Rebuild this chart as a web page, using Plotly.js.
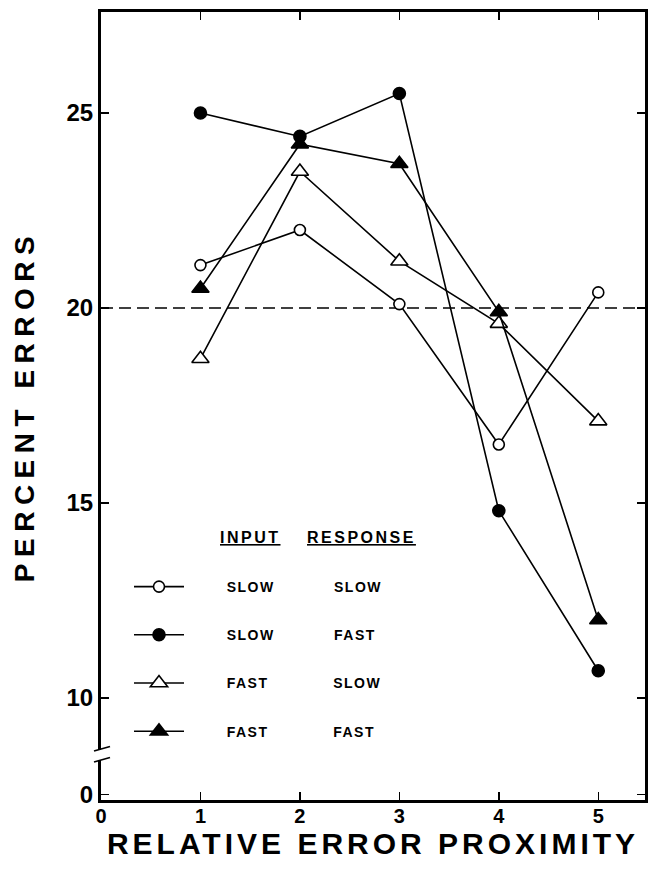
<!DOCTYPE html>
<html><head><meta charset="utf-8">
<script src="https://cdn.plot.ly/plotly-3.0.1.min.js"></script>
<style>
html,body{margin:0;padding:0;background:#fff}
#chart{width:648px;height:871px}
.xtitle{letter-spacing:4px}
.ytitle{letter-spacing:6.5px}
.legendtext{letter-spacing:1.5px}
.annotation-text{letter-spacing:2.5px}
</style></head><body><div id="chart"></div><script>
// ---- data ----
const proximity = [1, 2, 3, 4, 5];
const slowSlow  = [21.1, 22.0, 20.1, 16.5, 20.4];
const slowFast  = [25.0, 24.4, 25.5, 14.8, 10.7];
const fastSlow  = [18.7, 23.5, 21.2, 19.6, 17.1];
const fastFast  = [20.5, 24.2, 23.7, 19.9, 12.0];
const inputLabels    = ['SLOW', 'SLOW', 'FAST', 'FAST'];
const responseLabels = ['SLOW', 'FAST', 'SLOW', 'FAST'];
const xTickVals = [0, 1, 2, 3, 4, 5];
const xTickText = ['0', '1', '2', '3', '4', '5'];
const yTickText = ['0', '10', '15', '20', '25'];
const chanceLevel = 20;

// ---- layout helpers ----
const FONT = 'Liberation Sans, Arial, sans-serif';
const yBreakZero = 7.52;               // where "0" sits below the axis break
const yTickVals = [yBreakZero, 10, 15, 20, 25];

// two-column legend names padded with non-breaking spaces
const cv = document.createElement('canvas').getContext('2d');
cv.font = 'bold 14px "Liberation Sans"';
const LS = 1.5;
function w(s){ return cv.measureText(s).width + LS * s.length; }
const NB = '\u00a0';
function twoCol(a, b){
  const lead = Math.max(0, Math.round(37 / w(NB)));
  const n = Math.max(1, Math.round((109 - w(a)) / w(NB)));
  return NB.repeat(lead) + a + NB.repeat(n) + b;
}

const series = [slowSlow, slowFast, fastSlow, fastFast];
const symbols = ['circle', 'circle', 'triangle-up', 'triangle-up'];
const fills = ['white', 'black', 'white', 'black'];
const sizes = [11, 12, 15, 15];

const traces = series.map((ys, i) => ({
  x: proximity, y: ys, type: 'scatter', mode: 'lines+markers',
  name: twoCol(inputLabels[i], responseLabels[i]),
  legendgroup: 'g' + i,
  line: {color: 'black', width: 1.6},
  marker: {symbol: symbols[i], size: sizes[i], color: fills[i], line: {color: 'black', width: 1.6}},
  cliponaxis: false
}));

const px = v => (v - 101) / 544;
const py = v => (800 - v) / 788;

const layout = {
  width: 648, height: 871,
  margin: {l: 101, r: 3, t: 12, b: 71},
  paper_bgcolor: 'white', plot_bgcolor: 'white',
  showlegend: true,
  font: {family: FONT, color: 'black'},
  xaxis: {
    range: [0, 5.47], tickvals: xTickVals, ticktext: xTickText,
    ticks: 'inside', ticklen: 8, tickwidth: 1.5, tickcolor: 'black',
    showline: true, linewidth: 3, linecolor: 'black', mirror: 'ticks',
    showgrid: false, zeroline: false,
    tickfont: {family: FONT, size: 20, weight: 'bold'},
    ticklabelstandoff: -4,
    title: {text: 'RELATIVE ERROR PROXIMITY', font: {family: FONT, size: 30, weight: 'bold'}, standoff: 4}
  },
  yaxis: {
    range: [7.385, 27.59], tickvals: yTickVals, ticktext: yTickText,
    ticks: 'inside', ticklen: 8, tickwidth: 1.5, tickcolor: 'black',
    showline: true, linewidth: 3, linecolor: 'black', mirror: 'ticks',
    showgrid: false, zeroline: false,
    tickfont: {family: FONT, size: 24, weight: 'bold'},
    ticklabelstandoff: 0,
    title: {text: 'PERCENT ERRORS', font: {family: FONT, size: 28, weight: 'bold'}, standoff: 24}
  },
  legend: {
    x: px(129), y: py(571), xanchor: 'left', yanchor: 'top',
    bgcolor: 'rgba(0,0,0,0)', borderwidth: 0,
    font: {family: FONT, size: 14, weight: 'bold'},
    tracegroupgap: 27, itemwidth: 50, traceorder: 'grouped'
  },
  shapes: [
    {type: 'line', xref: 'paper', x0: 0, x1: 1, yref: 'y', y0: chanceLevel, y1: chanceLevel,
     line: {color: 'black', width: 1.3, dash: '12px,6px'}, layer: 'below'},
    {type: 'rect', xref: 'paper', yref: 'paper', x0: px(96), x1: px(106), y0: py(760), y1: py(750),
     fillcolor: 'white', line: {width: 0}, layer: 'above'},
    {type: 'line', xref: 'paper', yref: 'paper', x0: px(94), y0: py(751), x1: px(110), y1: py(746.5),
     line: {color: 'black', width: 1.8}, layer: 'above'},
    {type: 'line', xref: 'paper', yref: 'paper', x0: px(94), y0: py(762), x1: px(110), y1: py(757.5),
     line: {color: 'black', width: 1.8}, layer: 'above'}
  ],
  annotations: [
    {xref: 'paper', yref: 'paper', x: px(218), y: py(537), xanchor: 'left', text: 'INPUT', showarrow: false,
     font: {family: FONT, size: 16, weight: 'bold', lineposition: 'under'}},
    {xref: 'paper', yref: 'paper', x: px(305), y: py(537), xanchor: 'left', text: 'RESPONSE', showarrow: false,
     font: {family: FONT, size: 16, weight: 'bold', lineposition: 'under'}}
  ]
};

Plotly.newPlot('chart', traces, layout, {displayModeBar: false, staticPlot: true});
</script></body></html>
